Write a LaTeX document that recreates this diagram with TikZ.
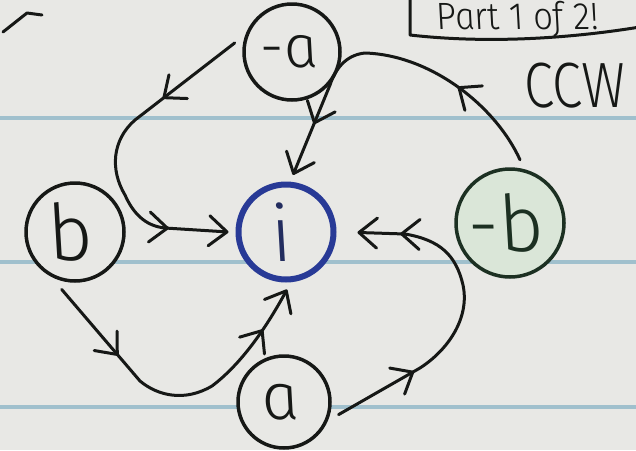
\documentclass[tikz,border=0pt]{standalone}
\usepackage{fontspec}
\newfontfamily\hand[FakeSlant=-0.2]{Fira Sans Light Italic}
\usetikzlibrary{arrows.meta,decorations.markings}
\definecolor{paper}{RGB}{232,232,229}
\definecolor{ruling}{RGB}{160,192,205}
\definecolor{ink}{RGB}{22,24,22}
\definecolor{bluink}{RGB}{40,58,150}
\definecolor{greenfill}{RGB}{218,230,216}
\definecolor{greenink}{RGB}{28,48,34}
\tikzset{
  barb/.tip={Straight Barb[length=18pt,width=30pt,round]},
  vertex/.style={circle, draw=ink, fill=paper, line width=3.5pt, inner sep=0pt,
    outer sep=10pt, text=ink},
  flow/.style={draw=ink, line width=3pt, -barb, postaction={decorate}},
  rulingline/.style={draw=ruling, line width=4pt},
  handtext/.style={text=ink, inner sep=0pt},
}
\begin{document}
\begin{tikzpicture}[x=1pt,y=-1pt,line cap=round,line join=round]
\fill[paper] (0,0) rectangle (636,450);
\useasboundingbox (0,0) rectangle (636,450);
% ruled paper lines
\draw[rulingline] (0,118) -- (636,118);
\draw[rulingline] (0,262) -- (636,262);
\draw[rulingline] (0,407) -- (636,407);
% nodes
\node[vertex, minimum size=96pt, font=\hand\fontsize{60}{60}\selectfont] (na) at (292,52) {-a};
\node[vertex, minimum size=98pt, font=\hand\fontsize{78}{78}\selectfont] (nb) at (75,232) {b};
\node[vertex, minimum size=95pt, draw=bluink, line width=6pt, text={rgb,255:red,35;green,45;blue,95},
  font=\hand\fontsize{78}{78}\selectfont] (ni) at (286,232) {i};
\node[vertex, minimum size=108pt, draw=greenink, fill=greenfill, text=greenink,
  font=\hand\fontsize{78}{78}\selectfont] (nmb) at (510,223) {-b};
\node[vertex, minimum size=92pt, font=\hand\fontsize{66}{66}\selectfont] (nA) at (284,402) {a};
% connectors
\path[flow, decoration={markings,
    mark=at position 91pt with {\arrow{barb}},
    mark=at position 267pt with {\arrow{barb}}}]
  (na.171) -- (135,120) .. controls (112,140) and (110,170) .. (125,195)
  .. controls (133,213) and (145,226) .. (165,228) -- (ni.180);
\path[flow, decoration={markings,
    mark=at position 97pt with {\arrow{barb}},
    mark=at position 290pt with {\arrow{barb}}}]
  (nmb.81) .. controls (495,105) and (430,55) .. (365,53)
  .. controls (345,55) and (335,70) .. (330,85) -- (ni.83);
\path[flow, decoration={markings,
    mark=at position 87pt with {\arrow{barb}},
    mark=at position 274pt with {\arrow{barb}}}]
  (nb.257) -- (140,381) .. controls (158,396) and (185,402) .. (212,386)
  .. controls (240,365) and (265,330) .. (ni.271);
\path[flow, shorten >=14pt, decoration={markings,
    mark=at position 87pt with {\arrow{barb}},
    mark=at position 281pt with {\arrow{barb}}}]
  (nA.347) -- (420,368) .. controls (448,350) and (470,318) .. (463,285)
  .. controls (456,255) and (440,240) .. (405,234) -- (ni.0);
% texts
\node[handtext, font=\hand\fontsize{64}{64}\selectfont] (ccw) at (578,86) {\scalebox{0.84}[1]{CCW}};
\node[handtext, anchor=base west, font=\hand\fontsize{38}{38}\selectfont] (part) at (438,29) {\scalebox{0.92}[1]{Part 1 of 2!}};
\draw[ink, line width=3pt] (410,-6) -- (410,35) .. controls (480,43) and (560,40) .. (640,27);
% stray pen mark top left
\draw[ink, line width=3pt] (3,32) -- (27,13) -- (42,15);
\end{tikzpicture}
\end{document}
